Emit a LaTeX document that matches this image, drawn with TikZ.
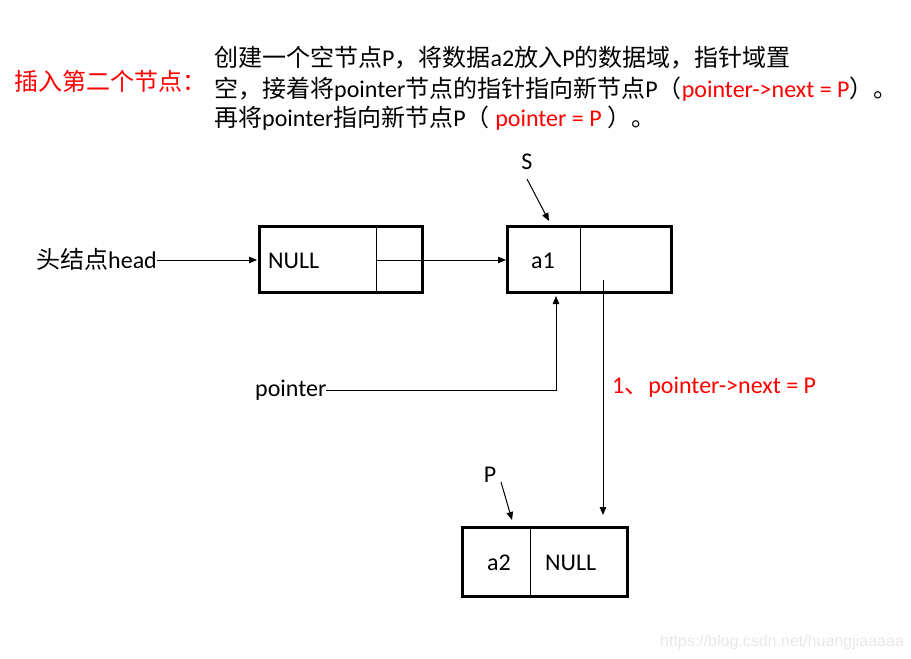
\documentclass[tikz,border=0pt]{standalone}
\usepackage{fontspec}
\setmainfont{Carlito}
\newfontfamily\cjk{Noto Sans CJK SC}
\newfontfamily\wmfont{Liberation Sans}
\usetikzlibrary{arrows.meta}
\definecolor{wm}{HTML}{E8E8E8}
\tikzset{
  box/.style={draw=black, line width=3pt, rectangle, inner sep=0pt},
  divider/.style={draw=black, line width=1pt},
  conn/.style={draw=black, line width=1pt, -{Triangle[length=8pt,width=6.5pt]}},
  txt/.style={inner sep=0pt, font=\fontsize{24pt}{30pt}\selectfont},
}
\begin{document}
\begin{tikzpicture}[x=1pt,y=-1pt]
\useasboundingbox (0,0) rectangle (911,659);
% header text
\node[txt, anchor=base west, text=red] (title) at (14,90) {\cjk 插入第二个节点：};
\node[txt, anchor=base west] (l1) at (214,66) {{\cjk 创建一个空节点}P{\cjk ，将数据}a2{\cjk 放入}P{\cjk 的数据域，指针域置}};
\node[txt, anchor=base west] (l2) at (214,97) {{\cjk 空，接着将}pointer{\cjk 节点的指针指向新节点}P{\cjk （}\textcolor{red}{pointer->next = P}{\cjk ）。}};
\node[txt, anchor=base west] (l3) at (214,126) {{\cjk 再将}pointer{\cjk 指向新节点}P{\cjk （} \textcolor{red}{pointer = P} {\cjk ）。}};
% boxes
\node[box, minimum width=163pt, minimum height=66pt] (b1) at (340.5,259) {};
\node[box, minimum width=163.5pt, minimum height=66pt] (b2) at (589.25,259) {};
\node[box, minimum width=165pt, minimum height=69pt] (b3) at (544.5,561.5) {};
\coordinate (d1t) at (376,226); \coordinate (d1b) at (376,292);
\coordinate (d2t) at (580,226); \coordinate (d2b) at (580,292);
\coordinate (d3t) at (530,527); \coordinate (d3b) at (530,596);
\draw[divider] (d1t) -- (d1b);
\draw[divider] (d2t) -- (d2b);
\draw[divider] (d3t) -- (d3b);
% box texts
\node[txt, anchor=base west] (null1) at (268,268) {NULL};
\node[txt, anchor=base] (a1) at (543,268) {a1};
\node[txt, anchor=base] (a2) at (499,570) {a2};
\node[txt, anchor=base west] (null3) at (545,570) {NULL};
% labels
\node[txt, anchor=base west] (head) at (36,268) {{\cjk 头结点}head};
\node[txt, anchor=base west] (ptr) at (255,396) {pointer};
\node[txt, anchor=base west, text=red] (step1) at (612,393) {1{\cjk 、}pointer->next = P};
\node[txt, anchor=base] (S) at (527,169) {S};
\node[txt, anchor=base] (P) at (490,482) {P};
% connector coordinates
\coordinate (b1p) at (376,260);
\coordinate (b2l) at (506,260);
\coordinate (b2p) at (603,280);
\coordinate (b3t) at (603,515);
\coordinate (b2bot) at (556,296);
\coordinate (bend) at (556,390);
\coordinate (ptrend) at (326,390);
\coordinate (Sfrom) at (527,179);
\coordinate (Sto) at (549,221);
\coordinate (Pfrom) at (501,482);
\coordinate (Pto) at (512,520);
\coordinate (headend) at (157,260);
\coordinate (b1l) at (257,260);
% connectors
\draw[conn] (headend) -- (b1l);
\draw[conn] (b1p) -- (b2l);
\draw[conn] (ptrend) -- (bend) -- (b2bot);
\draw[conn] (b2p) -- (b3t);
\draw[conn] (Sfrom) -- (Sto);
\draw[conn] (Pfrom) -- (Pto);
% watermark
\node[inner sep=0pt, anchor=base west, text=wm, font=\wmfont\fontsize{16pt}{18pt}\selectfont] (wmk) at (660,646) {https://blog.csdn.net/huangjiaaaaa};
\end{tikzpicture}
\end{document}
